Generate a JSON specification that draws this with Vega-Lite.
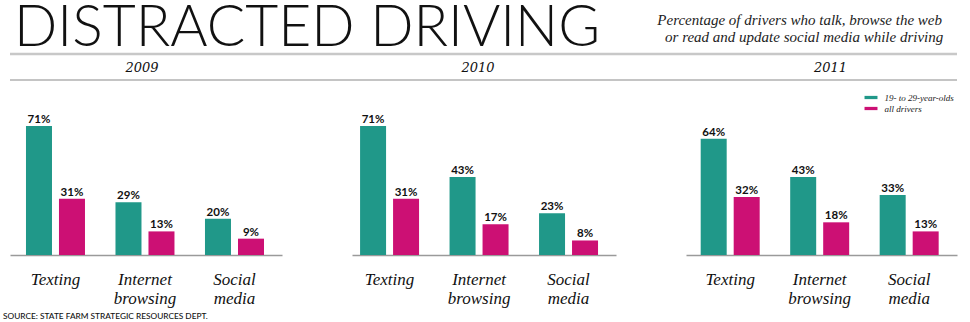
{
  "$schema": "https://vega.github.io/schema/vega-lite/v6.json",
  "background": "white",
  "padding": {"left": 3, "top": 0, "right": 5, "bottom": 2},
  "datasets": {
    "bars": [
      {"year": "2009", "category": "Texting", "group": "19- to 29-year-olds", "value": 0.71},
      {"year": "2009", "category": "Texting", "group": "all drivers", "value": 0.31},
      {"year": "2009", "category": "Internet browsing", "group": "19- to 29-year-olds", "value": 0.29},
      {"year": "2009", "category": "Internet browsing", "group": "all drivers", "value": 0.13},
      {"year": "2009", "category": "Social media", "group": "19- to 29-year-olds", "value": 0.20},
      {"year": "2009", "category": "Social media", "group": "all drivers", "value": 0.09},
      {"year": "2010", "category": "Texting", "group": "19- to 29-year-olds", "value": 0.71},
      {"year": "2010", "category": "Texting", "group": "all drivers", "value": 0.31},
      {"year": "2010", "category": "Internet browsing", "group": "19- to 29-year-olds", "value": 0.43},
      {"year": "2010", "category": "Internet browsing", "group": "all drivers", "value": 0.17},
      {"year": "2010", "category": "Social media", "group": "19- to 29-year-olds", "value": 0.23},
      {"year": "2010", "category": "Social media", "group": "all drivers", "value": 0.08},
      {"year": "2011", "category": "Texting", "group": "19- to 29-year-olds", "value": 0.64},
      {"year": "2011", "category": "Texting", "group": "all drivers", "value": 0.32},
      {"year": "2011", "category": "Internet browsing", "group": "19- to 29-year-olds", "value": 0.43},
      {"year": "2011", "category": "Internet browsing", "group": "all drivers", "value": 0.18},
      {"year": "2011", "category": "Social media", "group": "19- to 29-year-olds", "value": 0.33},
      {"year": "2011", "category": "Social media", "group": "all drivers", "value": 0.13}
    ],
    "lines": [
      {"line": "top"},
      {"line": "bottom"}
    ],
    "none": []
  },
  "bounds": "flush",
  "spacing": 0,
  "resolve": {"scale": {"y": "independent", "x": "independent", "color": "independent"}},
  "vconcat": [
    {
      "width": 947,
      "height": 1,
      "data": {"name": "none"},
      "title": {"text": "DISTRACTED DRIVING", "anchor": "start", "orient": "top", "font": "Lato", "fontWeight": 300, "fontSize": 57, "color": "#111111", "baseline": "alphabetic", "offset": -51, "dx": 4},
      "mark": {"type": "rule"},
      "encoding": {}
    },
    {
      "width": 947,
      "height": 1,
      "data": {"name": "none"},
      "title": {"text": "Percentage of drivers who talk, browse the web", "anchor": "end", "orient": "top", "font": "Liberation Serif", "fontStyle": "italic", "fontWeight": "normal", "fontSize": 15, "color": "#222222", "baseline": "alphabetic", "offset": 13, "dx": -15},
      "mark": {"type": "rule"},
      "encoding": {}
    },
    {
      "width": 947,
      "height": 26,
      "data": {"name": "lines"},
      "title": {"text": "or read and update social media while driving", "anchor": "end", "orient": "top", "font": "Liberation Serif", "fontStyle": "italic", "fontWeight": "normal", "fontSize": 15, "color": "#222222", "baseline": "alphabetic", "offset": -4.5, "dx": -15},
      "mark": {"type": "rule"},
      "encoding": {
        "y": {"field": "line", "type": "ordinal", "scale": {"type": "point", "domain": ["top", "bottom"], "padding": 0}, "axis": null},
        "color": {"condition": {"test": "datum.line === 'top'", "value": "#c8c8c8"}, "value": "#8a8a8a"},
        "strokeWidth": {"condition": {"test": "datum.line === 'top'", "value": 2.5}, "value": 1.2}
      }
    },
    {
      "bounds": "flush",
      "spacing": 70,
      "title": {"text": "SOURCE: STATE FARM STRATEGIC RESOURCES DEPT.", "orient": "bottom", "anchor": "start", "font": "Lato", "fontWeight": 500, "fontSize": 8.3, "color": "#111111", "baseline": "alphabetic", "offset": 12.5, "dx": -7},
      "resolve": {"scale": {"x": "independent", "y": "independent", "xOffset": "independent", "color": "independent"}},
      "hconcat": [
        {
          "width": 272,
          "height": 175,
          "title": {"text": "2009", "font": "DejaVu Serif", "fontStyle": "italic", "fontWeight": "normal", "fontSize": 13, "color": "#111111", "baseline": "alphabetic", "anchor": "middle", "offset": -5, "dx": -4},
          "data": {"name": "bars"},
          "transform": [{"filter": "datum.year === '2009'"}],
          "encoding": {
            "x": {"field": "category", "type": "nominal", "sort": ["Texting", "Internet browsing", "Social media"], "scale": {"paddingInner": 0.3408, "paddingOuter": 0.19, "align": 0.47},
              "axis": {"title": null, "orient": "bottom", "domainColor": "#9a9a9a", "domainWidth": 1.5, "ticks": false, "tickSize": 0, "labelAngle": 0, "labelFont": "Liberation Serif", "labelFontStyle": "italic", "labelFontSize": 17, "labelColor": "#111111", "labelBaseline": "alphabetic", "labelPadding": 29, "labelLineHeight": 19, "labelOverlap": false, "labelExpr": "split(datum.label, ' ')"}},
            "xOffset": {"field": "group", "type": "nominal", "sort": ["19- to 29-year-olds", "all drivers"], "scale": {"paddingInner": 0.212, "paddingOuter": 0}},
            "y": {"field": "value", "type": "quantitative", "scale": {"domain": [0, 0.964]}, "axis": null}
          },
          "layer": [
            {"mark": {"type": "bar"}, "encoding": {"color": {"field": "group", "type": "nominal", "scale": {"domain": ["19- to 29-year-olds", "all drivers"], "range": ["#209889", "#cc1074"]}, "legend": null}}},
            {"mark": {"type": "text", "baseline": "alphabetic", "dy": -3, "font": "Lato", "fontWeight": "bold", "fontSize": 11.5, "color": "#111111"}, "encoding": {"text": {"field": "value", "type": "quantitative", "format": ".0%"}}}
          ]
        },
        {
          "width": 264,
          "height": 175,
          "title": {"text": "2010", "font": "DejaVu Serif", "fontStyle": "italic", "fontWeight": "normal", "fontSize": 13, "color": "#111111", "baseline": "alphabetic", "anchor": "middle", "offset": -5, "dx": -6},
          "data": {"name": "bars"},
          "transform": [{"filter": "datum.year === '2010'"}],
          "encoding": {
            "x": {"field": "category", "type": "nominal", "sort": ["Texting", "Internet browsing", "Social media"], "scale": {"paddingInner": 0.3408, "paddingOuter": 0.1455, "align": 0.31},
              "axis": {"title": null, "orient": "bottom", "domainColor": "#9a9a9a", "domainWidth": 1.5, "ticks": false, "tickSize": 0, "labelAngle": 0, "labelFont": "Liberation Serif", "labelFontStyle": "italic", "labelFontSize": 17, "labelColor": "#111111", "labelBaseline": "alphabetic", "labelPadding": 29, "labelLineHeight": 19, "labelOverlap": false, "labelExpr": "split(datum.label, ' ')"}},
            "xOffset": {"field": "group", "type": "nominal", "sort": ["19- to 29-year-olds", "all drivers"], "scale": {"paddingInner": 0.212, "paddingOuter": 0}},
            "y": {"field": "value", "type": "quantitative", "scale": {"domain": [0, 0.964]}, "axis": null}
          },
          "layer": [
            {"mark": {"type": "bar"}, "encoding": {"color": {"field": "group", "type": "nominal", "scale": {"domain": ["19- to 29-year-olds", "all drivers"], "range": ["#209889", "#cc1074"]}, "legend": null}}},
            {"mark": {"type": "text", "baseline": "alphabetic", "dy": -3, "font": "Lato", "fontWeight": "bold", "fontSize": 11.5, "color": "#111111"}, "encoding": {"text": {"field": "value", "type": "quantitative", "format": ".0%"}}}
          ]
        },
        {
          "width": 271,
          "height": 175,
          "title": {"text": "2011", "font": "DejaVu Serif", "fontStyle": "italic", "fontWeight": "normal", "fontSize": 13, "color": "#111111", "baseline": "alphabetic", "anchor": "middle", "offset": -5, "dx": 9},
          "data": {"name": "bars"},
          "transform": [{"filter": "datum.year === '2011'"}],
          "encoding": {
            "x": {"field": "category", "type": "nominal", "sort": ["Texting", "Internet browsing", "Social media"], "scale": {"paddingInner": 0.3408, "paddingOuter": 0.1845, "align": 0.445},
              "axis": {"title": null, "orient": "bottom", "domainColor": "#9a9a9a", "domainWidth": 1.5, "ticks": false, "tickSize": 0, "labelAngle": 0, "labelFont": "Liberation Serif", "labelFontStyle": "italic", "labelFontSize": 17, "labelColor": "#111111", "labelBaseline": "alphabetic", "labelPadding": 29, "labelLineHeight": 19, "labelOverlap": false, "labelExpr": "split(datum.label, ' ')"}},
            "xOffset": {"field": "group", "type": "nominal", "sort": ["19- to 29-year-olds", "all drivers"], "scale": {"paddingInner": 0.212, "paddingOuter": 0}},
            "y": {"field": "value", "type": "quantitative", "scale": {"domain": [0, 0.964]}, "axis": null}
          },
          "layer": [
            {"mark": {"type": "bar"}, "encoding": {"color": {"field": "group", "type": "nominal", "scale": {"domain": ["19- to 29-year-olds", "all drivers"], "range": ["#209889", "#cc1074"]},
              "legend": {"orient": "none", "legendX": 180.5, "legendY": 13, "title": null, "symbolType": "M-2,-0.5H2V0.5H-2Z", "symbolSize": 42, "symbolStrokeWidth": 0, "labelFont": "Liberation Serif", "labelFontStyle": "italic", "labelFontSize": 9, "labelColor": "#222222", "rowPadding": 1, "padding": 0, "labelOffset": 9}}}},
            {"mark": {"type": "text", "baseline": "alphabetic", "dy": -3, "font": "Lato", "fontWeight": "bold", "fontSize": 11.5, "color": "#111111"}, "encoding": {"text": {"field": "value", "type": "quantitative", "format": ".0%"}}}
          ]
        }
      ]
    }
  ],
  "config": {"view": {"stroke": null}}
}
